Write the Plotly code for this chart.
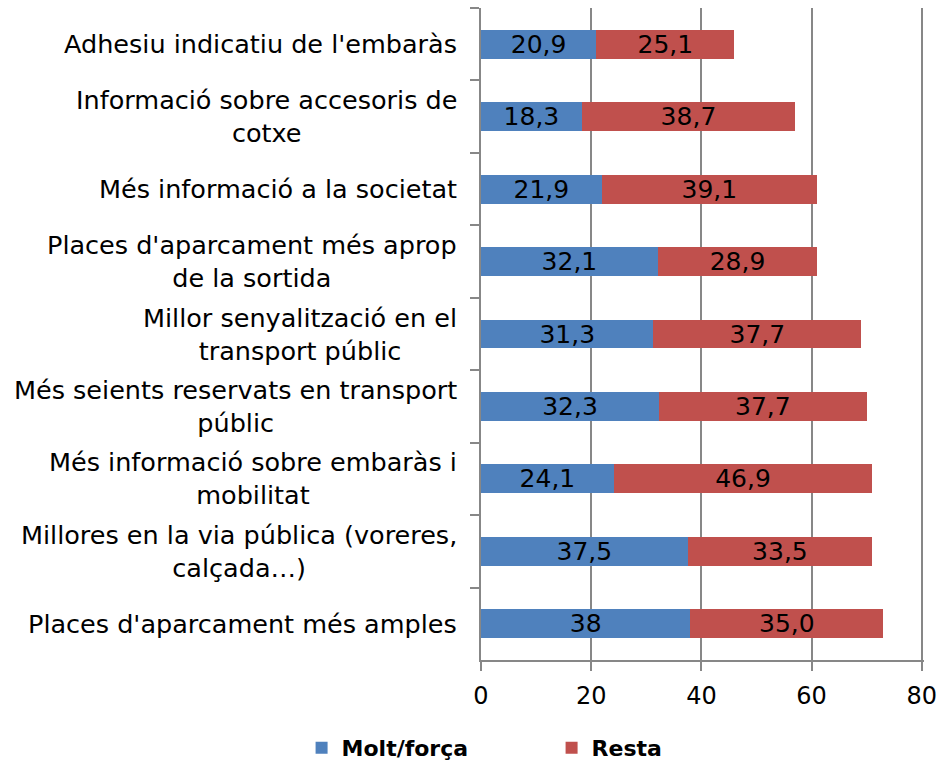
import plotly.graph_objects as go

categories = [
    "Adhesiu indicatiu de l'embaràs",
    "Informació sobre accesoris de<br>cotxe",
    "Més informació a la societat",
    "Places d'aparcament més aprop<br>de la sortida",
    "Millor senyalització en el<br>transport públic",
    "Més seients reservats en transport<br>públic",
    "Més informació sobre embaràs i<br>mobilitat",
    "Millores en la via pública (voreres,<br>calçada…)",
    "Places d'aparcament més amples",
]
molt_forca = [20.9, 18.3, 21.9, 32.1, 31.3, 32.3, 24.1, 37.5, 38]
resta = [25.1, 38.7, 39.1, 28.9, 37.7, 37.7, 46.9, 33.5, 35.0]
molt_labels = ["20,9", "18,3", "21,9", "32,1", "31,3", "32,3", "24,1", "37,5", "38"]
resta_labels = ["25,1", "38,7", "39,1", "28,9", "37,7", "37,7", "46,9", "33,5", "35,0"]
x_ticks = [0, 20, 40, 60, 80]

FONT = "DejaVu Sans"
GRID = "#878787"

fig = go.Figure()
fig.add_trace(go.Bar(
    y=categories, x=molt_forca, orientation="h", name="Molt/força",
    marker=dict(color="#4F81BD", line=dict(width=0)),
    text=molt_labels, textposition="inside", insidetextanchor="middle",
    constraintext="none",
    textfont=dict(family=FONT, size=25, color="black"), textangle=0,
))
fig.add_trace(go.Bar(
    y=categories, x=resta, orientation="h", name="Resta",
    marker=dict(color="#C0504D", line=dict(width=0)),
    text=resta_labels, textposition="inside", insidetextanchor="middle",
    constraintext="none",
    textfont=dict(family=FONT, size=25, color="black"), textangle=0,
))

for c in categories:
    fig.add_annotation(
        x=0, xref="paper", y=c, yref="y", xanchor="right", yanchor="middle",
        xshift=-22, text=c, showarrow=False, align="center",
        font=dict(family=FONT, size=25.5, color="black"),
    )

fig.update_layout(
    barmode="stack", bargap=0.6,
    width=939, height=761,
    margin=dict(l=481, r=15, t=8, b=101, autoexpand=False),
    paper_bgcolor="white", plot_bgcolor="white",
    font=dict(family=FONT, color="black"),
    uniformtext=dict(mode=False),
    legend=dict(
        orientation="h", x=-0.405, xanchor="left",
        y=-0.135, yanchor="middle",
        font=dict(family=FONT, size=22, color="black", weight="bold"),
        traceorder="normal", itemwidth=30,
        entrywidth=205, entrywidthmode="pixels",
    ),
    xaxis=dict(
        range=[0, 80.4], tickvals=x_ticks, ticktext=[str(v) for v in x_ticks],
        showgrid=True, gridcolor=GRID, gridwidth=2,
        showline=True, linecolor=GRID, linewidth=2,
        ticks="outside", ticklen=9, tickcolor=GRID, tickwidth=2,
        ticklabelstandoff=4,
        tickfont=dict(family=FONT, size=24, color="black"),
        zeroline=False, fixedrange=True, automargin=False,
    ),
    yaxis=dict(
        autorange="reversed", showticklabels=False,
        showline=True, linecolor=GRID, linewidth=2,
        ticks="outside", ticklen=9, tickcolor=GRID, tickwidth=2,
        tickson="boundaries", showgrid=False, fixedrange=True,
        automargin=False,
    ),
)

fig.write_html(
    "out.html",
    config={"displayModeBar": False},
    post_script="document.body.style.margin='0';document.body.style.overflow='hidden';",
)
